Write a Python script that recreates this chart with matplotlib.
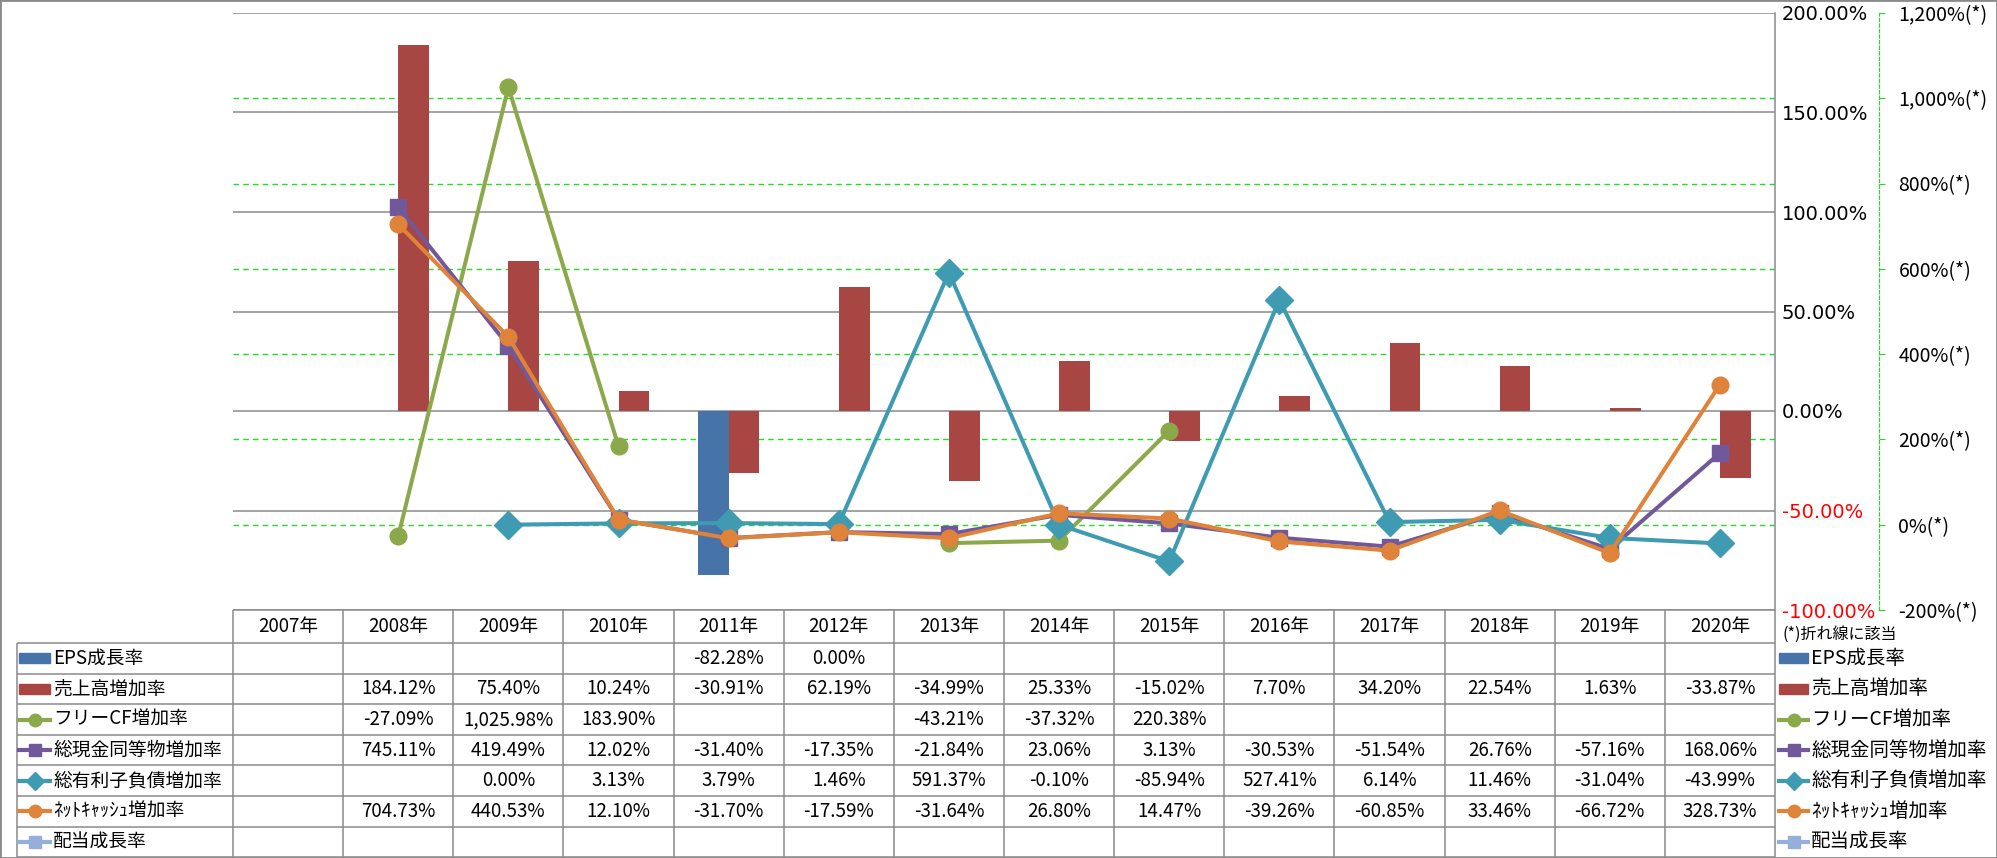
"""Growth rate chart with data table (Excel style)"""

import numpy as np
import matplotlib.pyplot as plt
from matplotlib.patches import Rectangle

plt.rcParams['font.family'] = ['Noto Sans CJK JP', 'DejaVu Sans']

nan = np.nan

# data
years = ['2007年', '2008年', '2009年', '2010年', '2011年', '2012年', '2013年',
         '2014年', '2015年', '2016年', '2017年', '2018年', '2019年', '2020年']
eps_growth = [nan, nan, nan, nan, -82.28, 0.00, nan, nan, nan, nan, nan, nan, nan, nan]
sales_growth = [nan, 184.12, 75.40, 10.24, -30.91, 62.19, -34.99, 25.33, -15.02,
                7.70, 34.20, 22.54, 1.63, -33.87]
fcf_growth = [nan, -27.09, 1025.98, 183.90, nan, nan, -43.21, -37.32, 220.38,
              nan, nan, nan, nan, nan]
cash_growth = [nan, 745.11, 419.49, 12.02, -31.40, -17.35, -21.84, 23.06, 3.13,
               -30.53, -51.54, 26.76, -57.16, 168.06]
debt_growth = [nan, nan, 0.00, 3.13, 3.79, 1.46, 591.37, -0.10, -85.94,
               527.41, 6.14, 11.46, -31.04, -43.99]
netcash_growth = [nan, 704.73, 440.53, 12.10, -31.70, -17.59, -31.64, 26.80, 14.47,
                  -39.26, -60.85, 33.46, -66.72, 328.73]
dividend_growth = [nan] * 14

names = ['EPS成長率', '売上高増加率', 'フリーCF増加率', '総現金同等物増加率',
         '総有利子負債増加率', 'ﾈｯﾄｷｬｯｼｭ増加率', '配当成長率']
values = [eps_growth, sales_growth, fcf_growth, cash_growth, debt_growth,
          netcash_growth, dividend_growth]
colors = ['#4674A8', '#A84644', '#8BA94B', '#71589B', '#3E9BB1', '#E0833A', '#95AFD8']
kinds = ['bar', 'bar', 'o', 's', 'D', 'o', 's']
msizes = [0, 0, 12, 11, 14, 12, 11]
key_sizes = [0, 0, 9, 9, 9, 9, 9]

left_ticks = [-100, -50, 0, 50, 100, 150, 200]
right_ticks = [-200, 0, 200, 400, 600, 800, 1000, 1200]

GRAY = '#8A8A8A'
LIME = '#22DD22'

W, H = 1997, 858
fig = plt.figure(figsize=(W / 100, H / 100), dpi=100)

# plot area in pixels
p_left, p_right, p_top, p_bottom = 233, 1775, 13, 610
rect = [p_left / W, 1 - p_bottom / H, (p_right - p_left) / W, (p_bottom - p_top) / H]

ax_r = fig.add_axes(rect, zorder=1)   # right scale + green grid
ax = fig.add_axes(rect, zorder=2)     # bars, left scale
ax_l = fig.add_axes(rect, zorder=3)   # lines on right scale

n = len(years)
x = np.arange(n) + 0.5
for a in (ax_r, ax, ax_l):
    a.set_xlim(0, n)
    a.patch.set_visible(False)
    a.set_xticks([])
    for s in a.spines.values():
        s.set_visible(False)

ax.set_ylim(-100, 200)
ax_r.set_ylim(-200, 1200)
ax_l.set_ylim(-200, 1200)

# left scale (labels drawn on the right side like the original)
ax.yaxis.tick_right()
ax.set_yticks(left_ticks)
ax.set_yticklabels([f'{v:.2f}%' for v in left_ticks], family='DejaVu Sans', ha='left')
ax.tick_params(axis='y', length=0, pad=5, labelsize=14)
for lbl, v in zip(ax.get_yticklabels(), left_ticks):
    if v < 0:
        lbl.set_color('red')
ax.grid(axis='y', color=GRAY, lw=1.1)
ax.set_axisbelow(True)
ax.spines['right'].set_visible(True)
ax.spines['right'].set_color(GRAY)
ax.spines['right'].set_linewidth(1.1)

# right scale (for the lines)
ax_r.yaxis.tick_right()
ax_r.set_yticks(right_ticks)
ax_r.set_yticklabels([f'{v:,}%(*)' for v in right_ticks], family='DejaVu Sans', ha='left')
ax_r.tick_params(axis='y', length=4, color=LIME, pad=10, labelsize=14)
for lbl, v in zip(ax_r.get_yticklabels(), right_ticks):
    if v < 0:
        lbl.set_color('red')
ax_r.spines['right'].set_visible(True)
ax_r.spines['right'].set_position(('axes', (1879 - p_left) / (p_right - p_left)))
ax_r.spines['right'].set_color(LIME)
ax_r.spines['right'].set_linestyle((0, (3, 2)))
ax_r.hlines(right_ticks[1:-1], 0, 1, transform=ax_r.get_yaxis_transform(),
            color=LIME, lw=1.0, linestyles=(0, (4, 3)))

# bars
w = 0.28
ax.bar(x - w / 2, eps_growth, width=w, color=colors[0], zorder=2)
ax.bar(x + w / 2, sales_growth, width=w, color=colors[1], zorder=2)

# lines
ax_l.set_yticks([])
for vals, c, m, ms in zip(values[2:], colors[2:], kinds[2:], msizes[2:]):
    ax_l.plot(x, vals, color=c, lw=2.9, marker=m, ms=ms, mec=c, mfc=c,
              solid_capstyle='round', clip_on=False)

# data table below the plot
tax = fig.add_axes([p_left / W, 0, (p_right - p_left) / W, (H - p_bottom) / H])
tax.set_xlim(0, n)
tax.set_ylim(H - p_bottom, 0)
tax.axis('off')

col_px = (p_right - p_left) / n
head_h, row_h = 33, 30.6
left_col = (17 - p_left) / col_px
row_edges = [head_h + i * row_h for i in range(len(names) + 1)]

tax.hlines(0, 0, n, color=GRAY, lw=1.1, clip_on=False)
tax.hlines(row_edges, left_col, n, color=GRAY, lw=1.1, clip_on=False)
tax.vlines(np.arange(n + 1), 0, row_edges[-1], color=GRAY, lw=1.1, clip_on=False)
tax.vlines(left_col, row_edges[0], row_edges[-1], color=GRAY, lw=1.1, clip_on=False)

for i, yr in enumerate(years):
    tax.text(x[i], head_h / 2, yr, ha='center', va='center', fontsize=13.5)

for r, vals in enumerate(values):
    yc = head_h + row_h * (r + 0.5)
    for i, v in enumerate(vals):
        if not np.isnan(v):
            tax.text(x[i], yc, f'{v:,.2f}%', ha='center', va='center', fontsize=13.5)


def legend_key(x0, x1, yc, r):
    if kinds[r] == 'bar':
        tax.add_patch(Rectangle((x0, yc - 5), x1 - x0, 10, color=colors[r], clip_on=False))
    else:
        tax.plot([x0, x1], [yc, yc], color=colors[r], lw=3, clip_on=False)
        tax.plot([(x0 + x1) / 2], [yc], marker=kinds[r], ms=key_sizes[r],
                 color=colors[r], clip_on=False)


# legend keys in the table's first column and at the right side
for r, name in enumerate(names):
    yc = head_h + row_h * (r + 0.5)
    legend_key((19 - p_left) / col_px, (50 - p_left) / col_px, yc, r)
    tax.text((53 - p_left) / col_px, yc, name, ha='left', va='center', fontsize=13.5)
    legend_key((1779 - p_left) / col_px, (1808 - p_left) / col_px, yc, r)
    tax.text((1811 - p_left) / col_px, yc, name, ha='left', va='center', fontsize=14)

tax.text((1783 - p_left) / col_px, 24, '(*)折れ線に該当', ha='left', va='center', fontsize=11.5)

# outer frame
fig.patches.append(Rectangle((0, 0), 1, 1, transform=fig.transFigure, fill=False,
                             edgecolor=GRAY, lw=2))

fig.savefig('out.png', dpi=100)
